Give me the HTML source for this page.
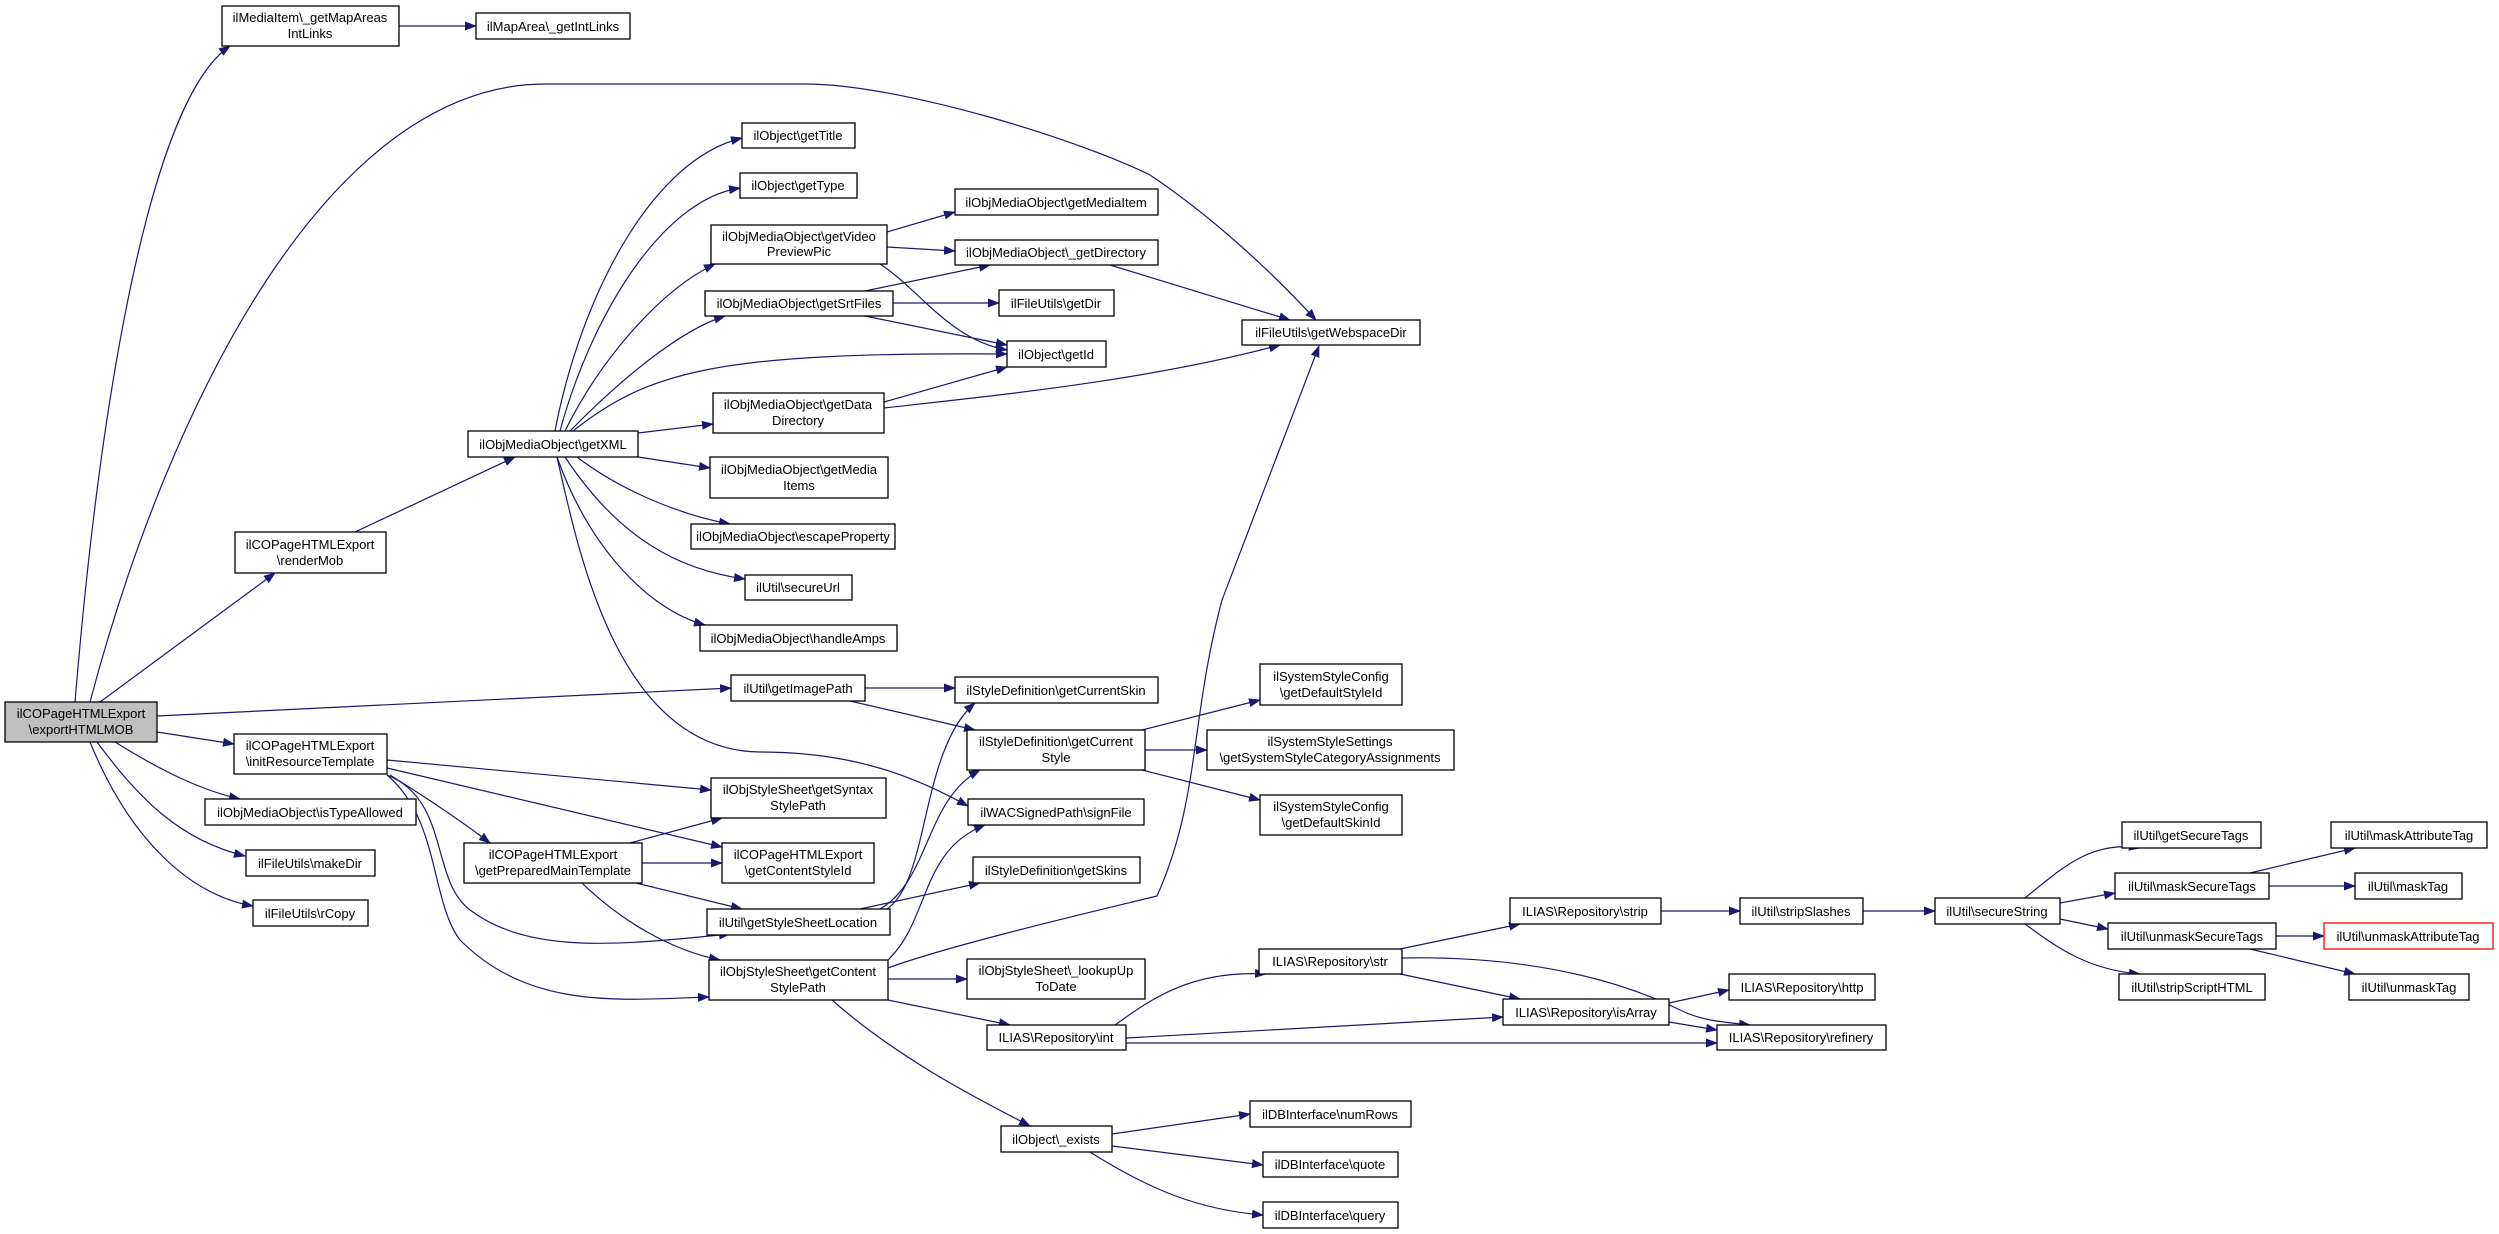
<!DOCTYPE html>
<html><head><meta charset="utf-8"><style>
html,body{margin:0;padding:0;background:#fff;}
svg{display:block;}
text{font-family:"Liberation Sans",Arial,sans-serif;font-size:13px;fill:#000;text-anchor:middle;}
rect{fill:#fff;stroke:#000;stroke-width:1.3;}
path{fill:none;stroke:#191970;stroke-width:1.2;}
</style></head><body>
<svg width="2499" height="1234" viewBox="0 0 2499 1234" xmlns="http://www.w3.org/2000/svg">
<defs><marker id="a" markerWidth="12" markerHeight="9" refX="11" refY="4.5" orient="auto" markerUnits="userSpaceOnUse"><polygon points="0,0 12,4.5 0,9" fill="#191970"/></marker></defs>
<g marker-end="url(#a)">
<path d="M75,702 C100,400 150,100 230,46"/>
<path d="M90,702 C170,400 330,84 545,84 L805,84 C900,84 1080,140 1150,175 C1210,215 1270,270 1316,320"/>
<path d="M100,702 L275,573"/>
<path d="M157,716 L731,688"/>
<path d="M157,732 L234,744"/>
<path d="M115,742 C160,770 200,790 240,799"/>
<path d="M97,742 C140,800 180,840 245,856"/>
<path d="M90,742 C130,840 190,895 253,906"/>
<path d="M399,26 L476,26"/>
<path d="M355,532 L515,457"/>
<path d="M555,431 C580,300 650,160 742,138"/>
<path d="M560,431 C590,320 660,200 740,188"/>
<path d="M565,431 C600,360 660,290 715,264"/>
<path d="M570,431 C620,380 680,330 725,316"/>
<path d="M573,431 C650,370 720,352 1007,354"/>
<path d="M638,433 L713,424"/>
<path d="M638,457 L710,468"/>
<path d="M577,457 C620,490 680,515 730,524"/>
<path d="M565,457 C620,540 680,570 745,579"/>
<path d="M557,457 C590,550 650,610 705,625"/>
<path d="M557,457 C580,560 620,750 760,752 C860,752 920,780 968,806"/>
<path d="M887,232 L955,212"/>
<path d="M887,247 L955,251"/>
<path d="M880,264 C920,290 950,340 1007,350"/>
<path d="M865,291 L990,265"/>
<path d="M893,303 L999,303"/>
<path d="M865,316 L1007,345"/>
<path d="M884,402 L1007,367"/>
<path d="M884,408 C1000,395 1150,380 1280,345"/>
<path d="M1110,265 L1290,320"/>
<path d="M865,688 L955,688"/>
<path d="M850,701 L975,730"/>
<path d="M387,760 L711,790"/>
<path d="M387,768 L722,847"/>
<path d="M390,775 C430,800 460,820 490,843"/>
<path d="M387,775 C450,800 430,880 470,910 C530,955 620,945 730,934"/>
<path d="M387,775 C440,820 430,900 460,940 C530,1010 620,1000 709,997"/>
<path d="M630,843 L722,818"/>
<path d="M642,863 L722,863"/>
<path d="M636,883 L742,909"/>
<path d="M582,883 C620,920 670,950 720,960"/>
<path d="M887,909 C930,880 920,750 975,703"/>
<path d="M880,909 C930,880 925,800 980,770"/>
<path d="M860,909 L980,883"/>
<path d="M888,960 C930,920 920,850 985,825"/>
<path d="M888,968 C950,945 1100,910 1157,896 C1200,800 1190,720 1222,600 L1319,346"/>
<path d="M888,979 L967,979"/>
<path d="M888,1000 L1010,1025"/>
<path d="M832,1000 C900,1060 980,1100 1030,1126"/>
<path d="M1142,730 L1260,700"/>
<path d="M1145,750 L1207,750"/>
<path d="M1142,770 L1260,800"/>
<path d="M1115,1025 C1150,1000 1190,970 1266,974"/>
<path d="M1126,1038 L1503,1017"/>
<path d="M1126,1043 L1717,1043"/>
<path d="M1400,949 L1520,924"/>
<path d="M1400,974 L1520,999"/>
<path d="M1402,958 C1550,955 1640,990 1680,1010 C1700,1020 1720,1022 1750,1025"/>
<path d="M1669,1003 L1729,990"/>
<path d="M1669,1022 L1717,1030"/>
<path d="M1661,911 L1740,911"/>
<path d="M1863,911 L1935,911"/>
<path d="M2025,898 C2060,870 2090,840 2140,848"/>
<path d="M2060,903 L2115,893"/>
<path d="M2060,919 L2108,929"/>
<path d="M2025,924 C2060,950 2090,970 2140,974"/>
<path d="M2250,873 L2355,848"/>
<path d="M2269,886 L2355,886"/>
<path d="M2276,936 L2324,936"/>
<path d="M2250,949 L2355,974"/>
<path d="M1112,1134 L1250,1114"/>
<path d="M1112,1146 L1263,1165"/>
<path d="M1090,1152 C1150,1190 1200,1210 1263,1215"/>
</g>
<g>
<rect x="5" y="702" width="152" height="40" style="fill:#bfbfbf"/><text x="81" y="718">ilCOPageHTMLExport</text><text x="81" y="734">\exportHTMLMOB</text>
<rect x="222" y="6" width="177" height="40"/><text x="310" y="22">ilMediaItem\_getMapAreas</text><text x="310" y="38">IntLinks</text>
<rect x="476" y="13" width="154" height="26"/><text x="553" y="31">ilMapArea\_getIntLinks</text>
<rect x="742" y="123" width="113" height="25"/><text x="798" y="140">ilObject\getTitle</text>
<rect x="740" y="173" width="117" height="25"/><text x="798" y="190">ilObject\getType</text>
<rect x="711" y="225" width="176" height="39"/><text x="799" y="241">ilObjMediaObject\getVideo</text><text x="799" y="256">PreviewPic</text>
<rect x="705" y="291" width="188" height="25"/><text x="799" y="308">ilObjMediaObject\getSrtFiles</text>
<rect x="713" y="393" width="171" height="40"/><text x="798" y="409">ilObjMediaObject\getData</text><text x="798" y="425">Directory</text>
<rect x="468" y="431" width="170" height="26"/><text x="553" y="449">ilObjMediaObject\getXML</text>
<rect x="710" y="457" width="178" height="41"/><text x="799" y="474">ilObjMediaObject\getMedia</text><text x="799" y="490">Items</text>
<rect x="691" y="524" width="204" height="25"/><text x="793" y="541">ilObjMediaObject\escapeProperty</text>
<rect x="745" y="575" width="107" height="25"/><text x="798" y="592">ilUtil\secureUrl</text>
<rect x="235" y="532" width="151" height="41"/><text x="310" y="549">ilCOPageHTMLExport</text><text x="310" y="565">\renderMob</text>
<rect x="700" y="625" width="197" height="26"/><text x="798" y="643">ilObjMediaObject\handleAmps</text>
<rect x="731" y="675" width="134" height="26"/><text x="798" y="693">ilUtil\getImagePath</text>
<rect x="234" y="734" width="153" height="40"/><text x="310" y="750">ilCOPageHTMLExport</text><text x="310" y="766">\initResourceTemplate</text>
<rect x="205" y="799" width="211" height="26"/><text x="310" y="817">ilObjMediaObject\isTypeAllowed</text>
<rect x="246" y="850" width="129" height="26"/><text x="310" y="868">ilFileUtils\makeDir</text>
<rect x="253" y="900" width="115" height="26"/><text x="310" y="918">ilFileUtils\rCopy</text>
<rect x="464" y="843" width="178" height="40"/><text x="553" y="859">ilCOPageHTMLExport</text><text x="553" y="875">\getPreparedMainTemplate</text>
<rect x="711" y="778" width="175" height="40"/><text x="798" y="794">ilObjStyleSheet\getSyntax</text><text x="798" y="810">StylePath</text>
<rect x="722" y="843" width="152" height="40"/><text x="798" y="859">ilCOPageHTMLExport</text><text x="798" y="875">\getContentStyleId</text>
<rect x="707" y="909" width="183" height="26"/><text x="798" y="927">ilUtil\getStyleSheetLocation</text>
<rect x="709" y="960" width="179" height="40"/><text x="798" y="976">ilObjStyleSheet\getContent</text><text x="798" y="992">StylePath</text>
<rect x="955" y="189" width="203" height="26"/><text x="1056" y="207">ilObjMediaObject\getMediaItem</text>
<rect x="955" y="240" width="203" height="25"/><text x="1056" y="257">ilObjMediaObject\_getDirectory</text>
<rect x="999" y="290" width="115" height="26"/><text x="1056" y="308">ilFileUtils\getDir</text>
<rect x="1007" y="341" width="99" height="26"/><text x="1056" y="359">ilObject\getId</text>
<rect x="1242" y="320" width="178" height="25"/><text x="1331" y="337">ilFileUtils\getWebspaceDir</text>
<rect x="955" y="677" width="203" height="26"/><text x="1056" y="695">ilStyleDefinition\getCurrentSkin</text>
<rect x="967" y="730" width="178" height="40"/><text x="1056" y="746">ilStyleDefinition\getCurrent</text><text x="1056" y="762">Style</text>
<rect x="968" y="799" width="176" height="26"/><text x="1056" y="817">ilWACSignedPath\signFile</text>
<rect x="973" y="857" width="167" height="26"/><text x="1056" y="875">ilStyleDefinition\getSkins</text>
<rect x="967" y="959" width="178" height="40"/><text x="1056" y="975">ilObjStyleSheet\_lookupUp</text><text x="1056" y="991">ToDate</text>
<rect x="987" y="1025" width="139" height="25"/><text x="1056" y="1042">ILIAS\Repository\int</text>
<rect x="1001" y="1126" width="111" height="26"/><text x="1056" y="1144">ilObject\_exists</text>
<rect x="1260" y="664" width="142" height="41"/><text x="1331" y="681">ilSystemStyleConfig</text><text x="1331" y="697">\getDefaultStyleId</text>
<rect x="1207" y="730" width="247" height="40"/><text x="1330" y="746">ilSystemStyleSettings</text><text x="1330" y="762">\getSystemStyleCategoryAssignments</text>
<rect x="1260" y="795" width="142" height="40"/><text x="1331" y="811">ilSystemStyleConfig</text><text x="1331" y="827">\getDefaultSkinId</text>
<rect x="1250" y="1101" width="161" height="26"/><text x="1330" y="1119">ilDBInterface\numRows</text>
<rect x="1263" y="1152" width="135" height="25"/><text x="1330" y="1169">ilDBInterface\quote</text>
<rect x="1263" y="1202" width="135" height="26"/><text x="1330" y="1220">ilDBInterface\query</text>
<rect x="1259" y="949" width="143" height="25"/><text x="1330" y="966">ILIAS\Repository\str</text>
<rect x="1510" y="898" width="151" height="26"/><text x="1585" y="916">ILIAS\Repository\strip</text>
<rect x="1503" y="999" width="166" height="26"/><text x="1586" y="1017">ILIAS\Repository\isArray</text>
<rect x="1729" y="974" width="146" height="26"/><text x="1802" y="992">ILIAS\Repository\http</text>
<rect x="1717" y="1025" width="169" height="25"/><text x="1801" y="1042">ILIAS\Repository\refinery</text>
<rect x="1740" y="898" width="123" height="26"/><text x="1801" y="916">ilUtil\stripSlashes</text>
<rect x="1935" y="898" width="125" height="26"/><text x="1997" y="916">ilUtil\secureString</text>
<rect x="2122" y="822" width="139" height="26"/><text x="2191" y="840">ilUtil\getSecureTags</text>
<rect x="2115" y="873" width="154" height="26"/><text x="2192" y="891">ilUtil\maskSecureTags</text>
<rect x="2108" y="923" width="168" height="26"/><text x="2192" y="941">ilUtil\unmaskSecureTags</text>
<rect x="2119" y="974" width="146" height="26"/><text x="2192" y="992">ilUtil\stripScriptHTML</text>
<rect x="2331" y="822" width="156" height="26"/><text x="2409" y="840">ilUtil\maskAttributeTag</text>
<rect x="2355" y="873" width="107" height="26"/><text x="2408" y="891">ilUtil\maskTag</text>
<rect x="2324" y="923" width="169" height="26" style="stroke:#ff0000"/><text x="2408" y="941">ilUtil\unmaskAttributeTag</text>
<rect x="2349" y="974" width="120" height="26"/><text x="2409" y="992">ilUtil\unmaskTag</text>
</g>
</svg>
</body></html>
